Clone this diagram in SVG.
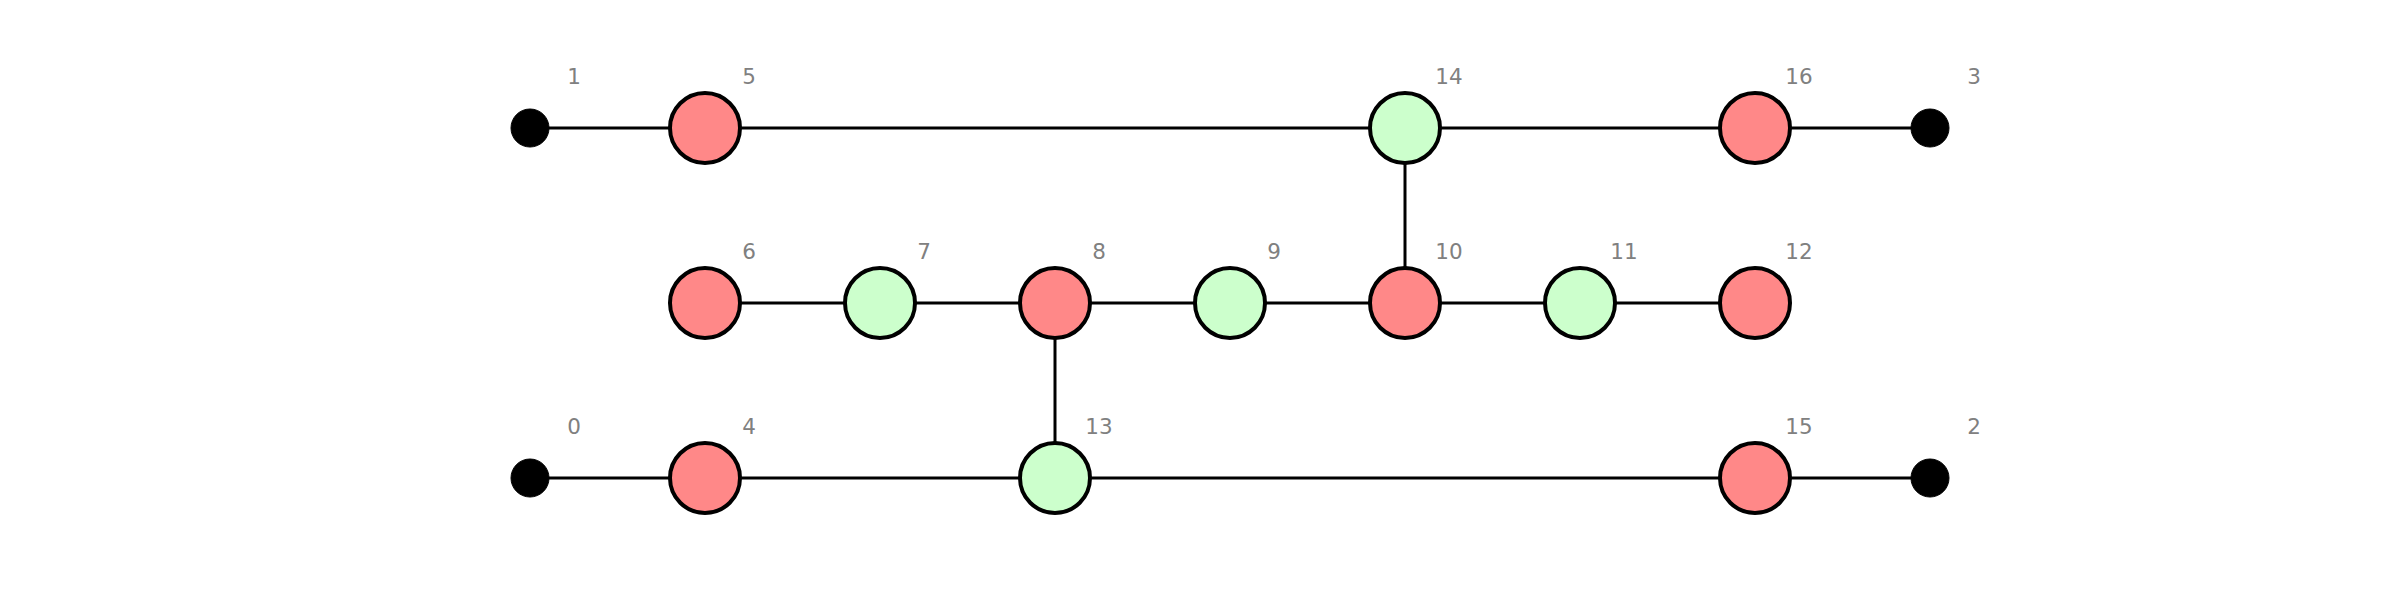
<svg xmlns="http://www.w3.org/2000/svg" width="2400" height="600" viewBox="0 0 2400 600">
<style>
.e{stroke:#000;stroke-width:3;fill:none}
.t{stroke:#000;fill:#000}
.r{fill:#ff8888;stroke:#000;stroke-width:4}
.g{fill:#ccffcc;stroke:#000;stroke-width:4}
.l{font-family:"DejaVu Sans",sans-serif;font-size:21.5px;fill:#808080;text-anchor:middle}
</style>
<rect width="2400" height="600" fill="#fff"/>
<g id="connectors">
<line class="e" x1="530" y1="128" x2="705" y2="128"/>
<line class="e" x1="705" y1="128" x2="1405" y2="128"/>
<line class="e" x1="1405" y1="128" x2="1755" y2="128"/>
<line class="e" x1="1755" y1="128" x2="1930" y2="128"/>
<line class="e" x1="1405" y1="128" x2="1405" y2="303"/>
<line class="e" x1="705" y1="303" x2="1755" y2="303"/>
<line class="e" x1="1055" y1="303" x2="1055" y2="478"/>
<line class="e" x1="530" y1="478" x2="1930" y2="478"/>
</g>
<g id="n1"><circle class="t" cx="530" cy="128" r="19"/><text class="l" x="574" y="84">1</text></g>
<g id="n5"><circle class="r" cx="705" cy="128" r="35"/><text class="l" x="749" y="84">5</text></g>
<g id="n14"><circle class="g" cx="1405" cy="128" r="35"/><text class="l" x="1449" y="84">14</text></g>
<g id="n16"><circle class="r" cx="1755" cy="128" r="35"/><text class="l" x="1799" y="84">16</text></g>
<g id="n3"><circle class="t" cx="1930" cy="128" r="19"/><text class="l" x="1974" y="84">3</text></g>
<g id="n6"><circle class="r" cx="705" cy="303" r="35"/><text class="l" x="749" y="259">6</text></g>
<g id="n7"><circle class="g" cx="880" cy="303" r="35"/><text class="l" x="924" y="259">7</text></g>
<g id="n8"><circle class="r" cx="1055" cy="303" r="35"/><text class="l" x="1099" y="259">8</text></g>
<g id="n9"><circle class="g" cx="1230" cy="303" r="35"/><text class="l" x="1274" y="259">9</text></g>
<g id="n10"><circle class="r" cx="1405" cy="303" r="35"/><text class="l" x="1449" y="259">10</text></g>
<g id="n11"><circle class="g" cx="1580" cy="303" r="35"/><text class="l" x="1624" y="259">11</text></g>
<g id="n12"><circle class="r" cx="1755" cy="303" r="35"/><text class="l" x="1799" y="259">12</text></g>
<g id="n0"><circle class="t" cx="530" cy="478" r="19"/><text class="l" x="574" y="434">0</text></g>
<g id="n4"><circle class="r" cx="705" cy="478" r="35"/><text class="l" x="749" y="434">4</text></g>
<g id="n13"><circle class="g" cx="1055" cy="478" r="35"/><text class="l" x="1099" y="434">13</text></g>
<g id="n15"><circle class="r" cx="1755" cy="478" r="35"/><text class="l" x="1799" y="434">15</text></g>
<g id="n2"><circle class="t" cx="1930" cy="478" r="19"/><text class="l" x="1974" y="434">2</text></g>
</svg>
